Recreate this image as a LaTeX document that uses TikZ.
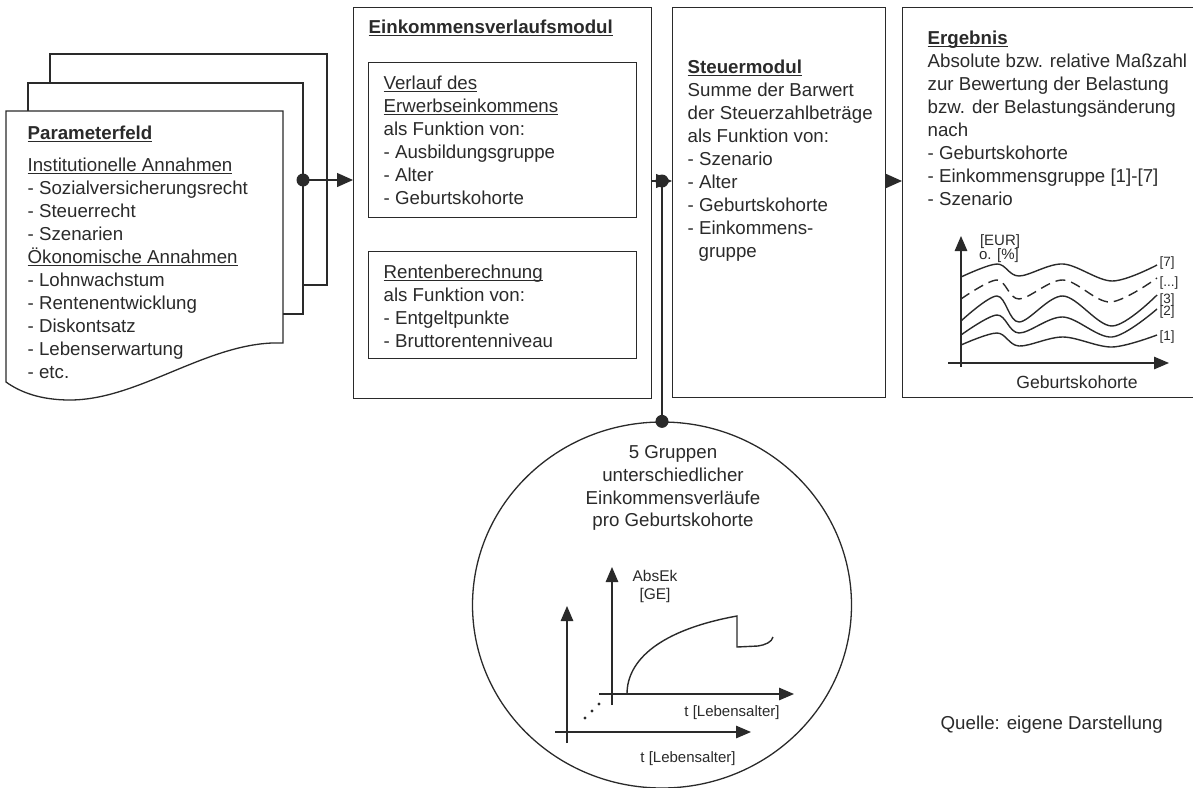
\documentclass[tikz,border=0pt]{standalone}
\usepackage{fontspec}
\setmainfont{Liberation Sans}
\usetikzlibrary{arrows.meta,shapes.geometric}
\definecolor{ink}{HTML}{2A2A2A}
\newcommand\fsA{\fontsize{18.7}{22.8}\selectfont}
\newcommand\fsB{\fontsize{15}{18}\selectfont}
\newcommand\fsC{\fontsize{13.5}{16}\selectfont}
\newcommand\uln[1]{\setbox0\hbox{#1}\rlap{\vrule height -2.2pt depth 3.4pt width \wd0}\box0}
\begin{document}
\begin{tikzpicture}[x=1pt,y=-1pt,line width=1.3pt,color=ink,
  every node/.style={text=ink},
  box/.style={draw=ink,rectangle,anchor=north west,inner sep=0pt,line width=1.3pt},
  txt/.style={anchor=base west,inner sep=0pt,font=\fsA},
  ctr/.style={anchor=base,inner sep=0pt,font=\fsA},
  sml/.style={anchor=base,inner sep=0pt,font=\fsB},
  lbl/.style={anchor=west,inner sep=0pt,font=\fsC},
  arr/.style={-{Triangle[length=16pt,width=14pt]},line width=1.3pt},
  arrS/.style={-{Triangle[length=15pt,width=12.5pt]},line width=1.3pt},
  dot/.style={circle,fill=ink,inner sep=0pt,minimum size=13pt},
  crv/.style={line width=1.4pt}]
\useasboundingbox (0,0) rectangle (1193,787);
\clip (0,0) rectangle (1193,787);

% --- Parameterfeld (stack of pages)
\draw (50,83) -- (50,54) -- (327,54) -- (327,285) -- (303,285);
\draw (28,111) -- (28,83) -- (303,83) -- (303,314) -- (283,314);
\draw (6,111) -- (283,111) -- (283,343) .. controls (210,340) and (140,400) .. (70,400) .. controls (40,400) and (20,392) .. (6,382) -- cycle;
\node[txt] (p0) at (27,139) {\textbf{\uln{Parameterfeld}}};
\node[txt] (p1) at (27,171) {\uln{Institutionelle Annahmen}};
\node[txt] (p2) at (27,194) {- Sozialversicherungsrecht};
\node[txt] (p3) at (27,217) {- Steuerrecht};
\node[txt] (p4) at (27,240) {- Szenarien};
\node[txt] (p5) at (27,263) {\uln{Ökonomische Annahmen}};
\node[txt] (p6) at (27,286) {- Lohnwachstum};
\node[txt] (p7) at (27,309) {- Rentenentwicklung};
\node[txt] (p8) at (27,332) {- Diskontsatz};
\node[txt] (p9) at (27,355) {- Lebenserwartung};
\node[txt] (p10) at (27,378) {- etc.};

% --- Einkommensverlaufsmodul
\node[box,minimum width=298pt,minimum height=391pt] (ekm) at (353,7) {};
\node[txt] (e0) at (368,33) {\textbf{\uln{Einkommensverlaufsmodul}}};
\node[box,minimum width=268pt,minimum height=155pt] (v1) at (368,62) {};
\node[txt] (v1a) at (383,89) {\uln{Verlauf des}};
\node[txt] (v1b) at (383,112) {\uln{Erwerbseinkommens}};
\node[txt] (v1c) at (383,135) {als Funktion von:};
\node[txt] (v1d) at (383,158) {- Ausbildungsgruppe};
\node[txt] (v1e) at (383,181) {- Alter};
\node[txt] (v1f) at (383,204) {- Geburtskohorte};
\node[box,minimum width=268pt,minimum height=107pt] (v2) at (368,251) {};
\node[txt] (v2a) at (383,278) {\uln{Rentenberechnung}};
\node[txt] (v2b) at (383,301) {als Funktion von:};
\node[txt] (v2c) at (383,324) {- Entgeltpunkte};
\node[txt] (v2d) at (383,347) {- Bruttorentenniveau};

% --- Steuermodul
\node[box,minimum width=213pt,minimum height=390pt] (st) at (672,7) {};
\node[txt] (s0) at (687,73) {\textbf{\uln{Steuermodul}}};
\node[txt] (s1) at (687,96) {Summe der Barwert};
\node[txt] (s2) at (687,119) {der Steuerzahlbeträge};
\node[txt] (s3) at (687,142) {als Funktion von:};
\node[txt] (s4) at (687,165) {- Szenario};
\node[txt] (s5) at (687,188) {- Alter};
\node[txt] (s6) at (687,211) {- Geburtskohorte};
\node[txt] (s7) at (687,234) {- Einkommens-};
\node[txt] (s8) at (698,257) {gruppe};

% --- Ergebnis
\node[box,minimum width=300pt,minimum height=390pt] (erg) at (902,7) {};
\node[txt] (r0) at (927,44) {\textbf{\uln{Ergebnis}}};
\node[txt] (r1) at (927,67) {Absolute bzw. relative Maßzahl};
\node[txt] (r2) at (927,90) {zur Bewertung der Belastung};
\node[txt] (r3) at (927,113) {bzw. der Belastungsänderung};
\node[txt] (r4) at (927,136) {nach};
\node[txt] (r5) at (927,159) {- Geburtskohorte};
\node[txt] (r6) at (927,182) {- Einkommensgruppe [1]-[7]};
\node[txt] (r7) at (927,205) {- Szenario};

% chart in Ergebnis
\draw[arrS] (961,367) -- (961,236);
\draw[arrS] (948,363) -- (1169,363);
\draw[crv] plot[smooth,tension=0.55] coordinates {(961,277) (997,264) (1019,276) (1063,264) (1112,281) (1157,265)};
\draw[crv,dash pattern=on 10pt off 6pt] plot[smooth,tension=0.55] coordinates {(961,299) (997,280) (1019,299) (1063,280) (1110,302) (1157,278)};
\draw[crv] plot[smooth,tension=0.55] coordinates {(961,321) (997,296) (1019,322) (1063,296) (1112,326) (1157,295)};
\draw[crv] plot[smooth,tension=0.55] coordinates {(961,335) (997,315) (1019,333) (1063,317) (1112,337) (1157,309)};
\draw[crv] plot[smooth,tension=0.55] coordinates {(961,345) (997,333) (1019,346) (1063,337) (1112,347) (1157,335)};
\node[sml] (g1) at (1000,245) {[EUR]};
\node[sml] (g2) at (999,259) {o. [\%]};
\node[lbl] (l7) at (1159,263) {[7]};
\node[lbl] (l6) at (1159,283) {[...]};
\node[lbl] (l3) at (1159,300) {[3]};
\node[lbl] (l2) at (1159,312) {[2]};
\node[lbl] (l1) at (1159,337) {[1]};
\node[ctr,font=\fontsize{17.6}{20}\selectfont] (gx) at (1077,388) {Geburtskohorte};

% --- circle
\node[draw=ink,ellipse,minimum width=379pt,minimum height=366pt,inner sep=0pt,line width=1.3pt] (circ) at (662,605) {};
\node[ctr] (c1) at (673,458) {5 Gruppen};
\node[ctr] (c2) at (673,481) {unterschiedlicher};
\node[ctr] (c3) at (673,504) {Einkommensverläufe};
\node[ctr] (c4) at (673,526) {pro Geburtskohorte};
\draw[arrS] (567,743) -- (567,606);
\draw[arrS] (555,732) -- (751,732);
\draw[arrS] (612,705) -- (612,567);
\draw[arrS] (599,694) -- (794,694);
\fill (585,718) circle (1.6pt);
\fill (592,711) circle (1.6pt);
\fill (599,704) circle (1.6pt);
\draw[crv] (627,694) .. controls (627,660) and (660,630) .. (737,616) -- (737,647) -- (758,646) .. controls (765,645) and (772,642) .. (773,637);
\node[sml,font=\fontsize{15.5}{18}\selectfont] (a1) at (655,581) {AbsEk};
\node[sml,font=\fontsize{15.5}{18}\selectfont] (a2) at (655,599) {[GE]};
\node[sml] (t1) at (732,716) {t [Lebensalter]};
\node[sml] (t2) at (688,762) {t [Lebensalter]};

% --- connectors
\coordinate (j1) at (303,180);
\coordinate (j2) at (662,181);
\draw[arr] (j1) -- (j1 -| ekm.west);
\node[dot] (d1) at (j1) {};
\draw[arr] (ekm.east |- j2) -- (st.west |- j2);
\draw (j2) -- (circ.north);
\node[dot] (d2) at (j2) {};
\node[dot] (d3) at (circ.north) {};
\draw[arr] (st.east |- j2) -- (erg.west |- j2);

\node[txt] (q) at (940,729) {Quelle: eigene Darstellung};
\end{tikzpicture}
\end{document}
